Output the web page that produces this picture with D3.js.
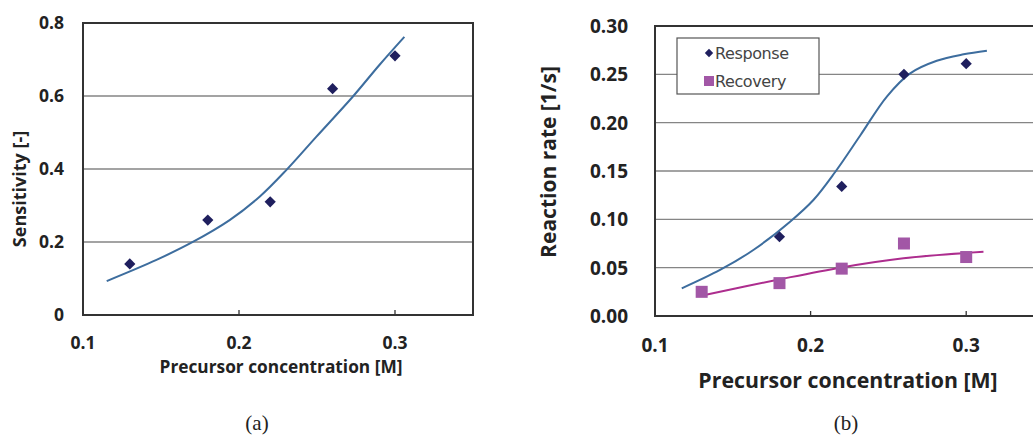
<!DOCTYPE html>
<html>
<head>
<meta charset="utf-8">
<script src="https://cdn.jsdelivr.net/npm/d3@7"></script>
<style>
  body { margin: 0; background: #fff; }
  svg { display: block; }
</style>
</head>
<body>
<svg id="chart" width="1033" height="437"></svg>
<script>
// panel (a) data
let concA = [0.13, 0.18, 0.22, 0.26, 0.30];
let sensitivity = [0.14, 0.26, 0.31, 0.62, 0.71];
// trend line
let fitA = [[0.1152,0.093],[0.1471,0.151],[0.1695,0.198],[0.194,0.26],[0.2132,0.324],[0.2303,0.397],[0.2495,0.488],[0.2729,0.598],[0.29,0.685],[0.306,0.762]];

// panel (b) data
let concResp = [0.18, 0.22, 0.26, 0.30];
let response = [0.082, 0.134, 0.250, 0.261];
let concRec = [0.13, 0.18, 0.22, 0.26, 0.30];
let recovery = [0.025, 0.034, 0.049, 0.075, 0.061];
let fitResp = [[0.1172,0.0286],[0.1418,0.0476],[0.1632,0.0683],[0.1868,0.0976],[0.2018,0.12],[0.2158,0.149],[0.232,0.187],[0.249,0.227],[0.264,0.251],[0.2811,0.264],[0.2983,0.2707],[0.3133,0.2745]];
let fitRec = [[0.1289,0.0207],[0.1804,0.038],[0.219,0.05],[0.2597,0.0597],[0.3111,0.0665]];

let xTicks = [0.1, 0.2, 0.3];
let yTicksA = [0, 0.2, 0.4, 0.6, 0.8];
let yTicksB = [0, 0.05, 0.10, 0.15, 0.20, 0.25, 0.30];

let svg = d3.select("#chart");
let font = "'Open Sans', sans-serif";

function panel(opt){
    let g = svg.append("g");
    let x = d3.scaleLinear().domain([0.1, 0.35]).range([opt.left, opt.right]);
    let y = d3.scaleLinear().domain(opt.yDomain).range([opt.bottom, opt.top]);

    // gridlines
    g.selectAll(".grid").data(opt.yTicks.slice(1, -1)).enter().append("line")
        .attr("x1", opt.left).attr("x2", opt.right)
        .attr("y1", d=>y(d)).attr("y2", d=>y(d))
        .attr("stroke", "#858585").attr("stroke-width", 1.3);

    // frame
    g.append("rect")
        .attr("x", opt.left).attr("y", opt.top)
        .attr("width", opt.right-opt.left).attr("height", opt.bottom-opt.top)
        .attr("fill", "none").attr("stroke", "#333").attr("stroke-width", 2);

    // x ticks inside
    g.selectAll(".xt").data(xTicks.slice(1)).enter().append("line")
        .attr("x1", d=>x(d)).attr("x2", d=>x(d))
        .attr("y1", opt.bottom).attr("y2", opt.bottom-5)
        .attr("stroke", "#333").attr("stroke-width", 1.3);

    g.selectAll(".xl").data(xTicks).enter().append("text")
        .attr("x", d=>x(d)).attr("y", opt.bottom+opt.xLabelDy)
        .attr("text-anchor", "middle")
        .attr("font-family", font).attr("font-weight", "bold")
        .attr("font-size", opt.tickSize).attr("fill", "#222")
        .text(d=>d3.format(".1f")(d));

    g.selectAll(".yl").data(opt.yTicks).enter().append("text")
        .attr("x", opt.left-opt.yLabelDx).attr("y", d=>y(d))
        .attr("dy", "0.36em")
        .attr("text-anchor", "end")
        .attr("font-family", font).attr("font-weight", "bold")
        .attr("font-size", opt.tickSize).attr("fill", "#222")
        .text(d=>opt.yFormat(d));

    g.append("text")
        .attr("x", opt.xTitleX).attr("y", opt.xTitleY)
        .attr("text-anchor", "middle")
        .attr("font-family", font).attr("font-weight", "bold")
        .attr("font-size", opt.titleSize).attr("fill", "#222")
        .text("Precursor concentration [M]");

    g.append("text")
        .attr("transform", `translate(${opt.yTitleX},${opt.yTitleY}) rotate(-90)`)
        .attr("text-anchor", "middle")
        .attr("font-family", font).attr("font-weight", "bold")
        .attr("font-size", opt.yTitleSize).attr("fill", "#222")
        .text(opt.yTitle);

    g.append("text")
        .attr("x", opt.capX).attr("y", 430)
        .attr("text-anchor", "middle")
        .attr("font-family", "'Liberation Serif', serif")
        .attr("font-size", 21).attr("fill", "#222")
        .text(opt.caption);

    return {g, x, y};
}

let line = (x, y) => d3.line().x(d=>x(d[0])).y(d=>y(d[1])).curve(d3.curveCatmullRom.alpha(0.5));

// ---------- (a)
let a = panel({
    left: 83, right: 473, top: 23, bottom: 315,
    yDomain: [0, 0.8], yTicks: yTicksA, yFormat: d=>d===0 ? "0" : d3.format(".1f")(d),
    tickSize: 17.5, titleSize: 17.3, yTitleSize: 18,
    xLabelDy: 34, yLabelDx: 19,
    xTitleX: 281, xTitleY: 373,
    yTitleX: 26, yTitleY: 189, yTitle: "Sensitivity [-]",
    capX: 257, caption: "(a)"
});
a.g.append("path").datum(fitA)
    .attr("d", line(a.x, a.y))
    .attr("fill", "none").attr("stroke", "#3d6d9e").attr("stroke-width", 2);
a.g.selectAll(".pt").data(concA).enter().append("path")
    .attr("transform", (d,i)=>`translate(${a.x(d)},${a.y(sensitivity[i])})`)
    .attr("d", d3.symbol(d3.symbolDiamond2, 80))
    .attr("fill", "#1f1f5e");

// ---------- (b)
let b = panel({
    left: 655, right: 1044, top: 26, bottom: 316,
    yDomain: [0, 0.30], yTicks: yTicksB, yFormat: d3.format(".2f"),
    tickSize: 19, titleSize: 21.3, yTitleSize: 21,
    xLabelDy: 36, yLabelDx: 27,
    xTitleX: 848, xTitleY: 388,
    yTitleX: 556, yTitleY: 162, yTitle: "Reaction rate [1/s]",
    capX: 846, caption: "(b)"
});
b.g.append("path").datum(fitResp)
    .attr("d", line(b.x, b.y))
    .attr("fill", "none").attr("stroke", "#3d6d9e").attr("stroke-width", 2);
b.g.append("path").datum(fitRec)
    .attr("d", line(b.x, b.y))
    .attr("fill", "none").attr("stroke", "#ad2d8e").attr("stroke-width", 2);
b.g.selectAll(".pr").data(concResp).enter().append("path")
    .attr("transform", (d,i)=>`translate(${b.x(d)},${b.y(response[i])})`)
    .attr("d", d3.symbol(d3.symbolDiamond2, 80))
    .attr("fill", "#1f1f5e");
b.g.selectAll(".pc").data(concRec).enter().append("rect")
    .attr("x", d=>b.x(d)-6).attr("y", (d,i)=>b.y(recovery[i])-6)
    .attr("width", 12).attr("height", 12)
    .attr("fill", "#a257a6");

// legend
let leg = b.g.append("g");
leg.append("rect")
    .attr("x", 677).attr("y", 38).attr("width", 142).attr("height", 56)
    .attr("fill", "#fff").attr("stroke", "#555").attr("stroke-width", 1.2);
let legItems = ["Response", "Recovery"];
leg.selectAll(".lt").data(legItems).enter().append("text")
    .attr("x", 715).attr("y", (d,i)=>53+i*28).attr("dy", "0.36em")
    .attr("font-family", "'DejaVu Sans', sans-serif").attr("font-size", 16)
    .attr("letter-spacing", -0.4)
    .attr("fill", "#444").text(d=>d);
leg.append("path")
    .attr("transform", "translate(709,53)")
    .attr("d", d3.symbol(d3.symbolDiamond2, 45))
    .attr("fill", "#1f1f5e");
leg.append("rect")
    .attr("x", 704).attr("y", 76).attr("width", 10).attr("height", 10)
    .attr("fill", "#a257a6");
</script>
</body>
</html>
